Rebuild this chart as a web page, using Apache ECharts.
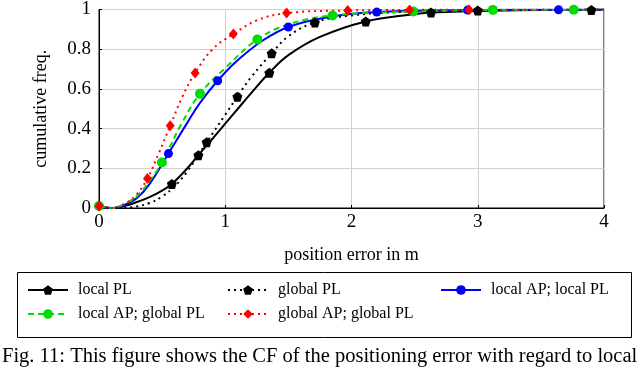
<!DOCTYPE html>
<html>
<head>
<meta charset="utf-8">
<script src="https://cdn.jsdelivr.net/npm/echarts@6/dist/echarts.min.js"></script>
<style>
  html, body { margin: 0; padding: 0; background: #fff; }
  #chart { width: 640px; height: 367px; }
</style>
</head>
<body>
<div id="chart"></div>
<script>
// axis ticks
var xTicks = [0, 1, 2, 3, 4];
var yTicks = [0, 0.2, 0.4, 0.6, 0.8, 1];

// curve points [position error, cumulative freq.]
var localPLCurve = [[0, 0.005], [0.1, 0], [0.2, 0.01], [0.3, 0.03], [0.4, 0.055], [0.5, 0.088], [0.7, 0.2], [0.9, 0.35], [1.0, 0.425], [1.1, 0.5], [1.2, 0.575], [1.5, 0.77], [1.75, 0.862], [2.5, 0.977], [3.5, 0.997], [4, 1]];
var localPLMarks = [[0.577, 0.121], [0.787, 0.266], [1.349, 0.681], [2.113, 0.94], [2.63, 0.985], [3.9, 0.998]];

var globalPLCurve = [[0.2, 0], [0.3, 0.008], [0.4, 0.025], [0.5, 0.058], [0.6, 0.11], [0.7, 0.185], [1.0, 0.47], [1.2, 0.655], [1.5, 0.865], [2.0, 0.97], [2.5, 0.99], [4, 1]];
var globalPLMarks = [[0.853, 0.331], [1.096, 0.561], [1.368, 0.779], [1.71, 0.935], [3.0, 0.995]];

var localAPlocalPLCurve = [[0.1, 0], [0.2, 0.015], [0.3, 0.05], [0.4, 0.12], [0.7, 0.43], [0.8, 0.53], [1.1, 0.745], [1.3, 0.845], [1.8, 0.96], [3, 0.998], [4, 1]];
var localAPlocalPLMarks = [[0, 0.01], [0.55, 0.274], [0.94, 0.641], [1.5, 0.912], [2.2, 0.987], [2.92, 0.997], [3.64, 0.999]];

var localAPglobalPLCurve = [[0.1, 0], [0.2, 0.02], [0.3, 0.06], [0.4, 0.135], [0.65, 0.42], [1.0, 0.705], [1.5, 0.925], [3, 0.997], [4, 1]];
var localAPglobalPLMarks = [[0, 0.01], [0.498, 0.229], [0.8, 0.575], [1.254, 0.849], [1.85, 0.97], [2.49, 0.99], [3.12, 0.998], [3.76, 0.999]];

var globalAPglobalPLCurve = [[0.1, 0], [0.2, 0.02], [0.3, 0.07], [0.47, 0.27], [0.66, 0.56], [0.9, 0.8], [1.25, 0.945], [2.5, 1], [4, 1]];
var globalAPglobalPLMarks = [[0, 0.01], [0.384, 0.149], [0.564, 0.414], [0.761, 0.68], [1.064, 0.876], [1.486, 0.982], [1.97, 0.995], [2.46, 0.998], [2.93, 0.999]];

var seriesNames = ['local PL', 'global PL', 'local AP; local PL', 'local AP; global PL', 'global AP; global PL'];

var pentagon = 'path://M0,-10L9.51,-3.09L5.88,8.09L-5.88,8.09L-9.51,-3.09Z';
var serif = '"Liberation Serif", "Times New Roman", serif';

// merge curve + marker points, markers keep their symbol
function build(curve, marks) {
    var pts = [];
    for (var i = 0; i < curve.length; i++) {
        pts.push({ value: curve[i], symbol: 'none' });
    }
    for (var j = 0; j < marks.length; j++) {
        pts.push({ value: marks[j] });
    }
    pts.sort(function (a, b) { return a.value[0] - b.value[0]; });
    return pts;
}

function makeSeries(name, curve, marks, color, lineType, symbol, size) {
    return {
        name: name,
        type: 'line',
        smooth: 0.4,
        data: build(curve, marks),
        symbol: symbol,
        symbolSize: size,
        showAllSymbol: true,
        clip: true,
        lineStyle: { color: color, width: 2, type: lineType },
        itemStyle: { color: color },
        emphasis: { disabled: true }
    };
}

var chart = echarts.init(document.getElementById('chart'), null, { renderer: 'canvas' });

function legendAt(name, left, top) {
    return {
        data: [name],
        left: left,
        top: top,
        padding: 0,
        itemWidth: 40,
        itemHeight: 12,
        textStyle: { fontFamily: serif, fontSize: 16, color: '#000', padding: [0, 0, 0, 5] }
    };
}

var option = {
    animation: false,
    backgroundColor: '#fff',
    grid: {
        left: 99, right: 36, top: 7, bottom: 159,
        show: true, borderColor: '#000', borderWidth: 1
    },
    xAxis: {
        type: 'value',
        min: 0, max: 4, interval: 1,
        name: 'position error in m',
        nameLocation: 'middle',
        nameGap: 38,
        nameTextStyle: { fontFamily: serif, fontSize: 18, color: '#000' },
        axisLine: { lineStyle: { color: '#000' } },
        axisTick: { inside: true, length: 3, lineStyle: { color: '#000' } },
        axisLabel: { fontFamily: serif, fontSize: 19, color: '#000', margin: 5 },
        splitLine: { lineStyle: { color: '#d0d0d0', width: 1 } }
    },
    yAxis: {
        type: 'value',
        min: 0, max: 1, interval: 0.2,
        name: 'cumulative freq.',
        nameLocation: 'middle',
        nameGap: 49,
        nameRotate: 90,
        nameTextStyle: { fontFamily: serif, fontSize: 18, color: '#000' },
        axisLine: { lineStyle: { color: '#000' } },
        axisTick: { inside: true, length: 3, lineStyle: { color: '#000' } },
        axisLabel: {
            fontFamily: serif, fontSize: 19, color: '#000', margin: 8,
            formatter: function (v) { return String(Math.round(v * 10) / 10); }
        },
        splitLine: { lineStyle: { color: '#d0d0d0', width: 1 } }
    },
    legend: [
        legendAt(seriesNames[0], 27, 282),
        legendAt(seriesNames[1], 227, 282),
        legendAt(seriesNames[2], 440, 282),
        legendAt(seriesNames[3], 27, 306),
        legendAt(seriesNames[4], 227, 306)
    ],
    graphic: [
        {
            type: 'rect',
            shape: { x: 17.5, y: 272.5, width: 614, height: 65 },
            style: { fill: 'none', stroke: '#000', lineWidth: 1 }
        },
        {
            type: 'text',
            left: 2, top: 346,
            style: {
                text: 'Fig. 11: This figure shows the CF of the positioning error with regard to local',
                font: '20.5px ' + serif,
                fill: '#000'
            }
        }
    ],
    series: [
        makeSeries(seriesNames[0], localPLCurve, localPLMarks, '#000000', 'solid', pentagon, 10),
        makeSeries(seriesNames[1], globalPLCurve, globalPLMarks, '#000000', [2, 4], pentagon, 10),
        makeSeries(seriesNames[2], localAPlocalPLCurve, localAPlocalPLMarks, '#0000ff', 'solid', 'circle', 9),
        makeSeries(seriesNames[3], localAPglobalPLCurve, localAPglobalPLMarks, '#00dd00', [6, 4], 'circle', 10),
        makeSeries(seriesNames[4], globalAPglobalPLCurve, globalAPglobalPLMarks, '#ff0000', [2, 4], 'diamond', [9, 11])
    ]
};

chart.setOption(option);
</script>
</body>
</html>
